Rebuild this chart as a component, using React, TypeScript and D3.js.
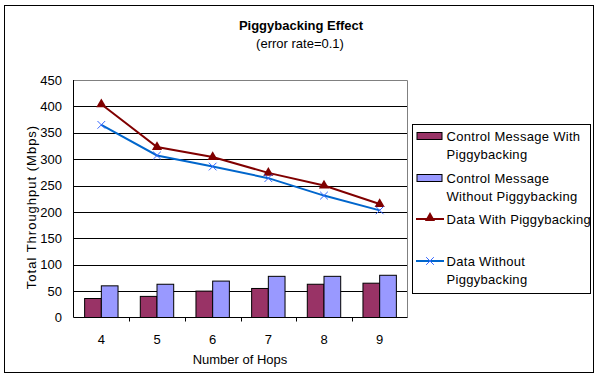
import React, { useRef, useEffect } from 'react';
import * as d3 from 'd3';

const hops = ['4', '5', '6', '7', '8', '9'];
const ctrlWith = [36, 40, 50, 55, 63, 65];
const ctrlWithout = [60, 63, 69, 78, 78, 80];
const dataWith = [404, 323, 304, 274, 250, 215];
const dataWithout = [365, 307, 286, 264, 231, 203];
const yTicks = [0, 50, 100, 150, 200, 250, 300, 350, 400, 450];

const W = 601;
const H = 384;
const FONT = '"Liberation Sans", Arial, sans-serif';

const App: React.FC = () => {
   const svgRef = useRef<SVGSVGElement | null>(null);

   useEffect(() => {
      if (!svgRef.current) return;
      const svg = d3.select(svgRef.current);
      svg.selectAll('*').remove();

      const left = 73.5, right = 407.5, top = 80, bottom = 317.5;

      const x = d3.scaleBand<string>().domain(hops).range([left, right]).padding(0);
      const y = d3.scaleLinear().domain([0, 450]).range([bottom, top]);
      const bw = x.bandwidth();

      // outer frame
      svg.append('rect')
         .attr('x', 4.5).attr('y', 5.5)
         .attr('width', 589).attr('height', 367)
         .attr('fill', 'white').attr('stroke', 'black').attr('stroke-width', 1);

      // titles
      svg.append('text')
         .attr('x', 301).attr('y', 30)
         .attr('text-anchor', 'middle')
         .attr('font-family', FONT).attr('font-size', 13).attr('font-weight', 'bold')
         .text('Piggybacking Effect');
      svg.append('text')
         .attr('x', 300).attr('y', 48)
         .attr('text-anchor', 'middle')
         .attr('font-family', FONT).attr('font-size', 13)
         .text('(error rate=0.1)');

      // gridlines
      svg.append('g')
         .selectAll('line')
         .data(yTicks.filter((t) => t > 0 && t < 450))
         .join('line')
         .attr('x1', left).attr('x2', right)
         .attr('y1', (d) => Math.round(y(d)) + 0.5)
         .attr('y2', (d) => Math.round(y(d)) + 0.5)
         .attr('stroke', 'black').attr('stroke-width', 1);

      // plot border top/right (gray)
      svg.append('path')
         .attr('d', `M${left},${top + 0.5}H${right}V${bottom}`)
         .attr('fill', 'none').attr('stroke', '#808080').attr('stroke-width', 1);

      // y tick labels
      svg.append('g')
         .selectAll('text')
         .data(yTicks)
         .join('text')
         .attr('x', 62)
         .attr('y', (d) => y(d))
         .attr('dy', '0.36em')
         .attr('text-anchor', 'end')
         .attr('font-family', FONT).attr('font-size', 13)
         .text((d) => d);

      // bars
      const bars = svg.append('g');
      bars.selectAll('rect.cw')
         .data(hops)
         .join('rect')
         .attr('class', 'cw')
         .attr('x', (d) => (x(d) ?? 0) + bw * 0.2)
         .attr('y', (d, i) => y(ctrlWith[i]))
         .attr('width', bw * 0.3)
         .attr('height', (d, i) => bottom - y(ctrlWith[i]))
         .attr('fill', '#993366').attr('stroke', 'black').attr('stroke-width', 1);
      bars.selectAll('rect.cwo')
         .data(hops)
         .join('rect')
         .attr('class', 'cwo')
         .attr('x', (d) => (x(d) ?? 0) + bw * 0.5)
         .attr('y', (d, i) => y(ctrlWithout[i]))
         .attr('width', bw * 0.3)
         .attr('height', (d, i) => bottom - y(ctrlWithout[i]))
         .attr('fill', '#9999FF').attr('stroke', 'black').attr('stroke-width', 1);

      // axes lines
      svg.append('line')
         .attr('x1', left).attr('x2', left).attr('y1', top).attr('y2', bottom)
         .attr('stroke', 'black');
      svg.append('line')
         .attr('x1', left).attr('x2', right).attr('y1', bottom).attr('y2', bottom)
         .attr('stroke', 'black');
      svg.append('g')
         .selectAll('line')
         .data(hops.slice(1))
         .join('line')
         .attr('x1', (d) => Math.round(x(d) ?? 0) + 0.5)
         .attr('x2', (d) => Math.round(x(d) ?? 0) + 0.5)
         .attr('y1', bottom).attr('y2', bottom + 4)
         .attr('stroke', 'black');

      // x tick labels
      svg.append('g')
         .selectAll('text')
         .data(hops)
         .join('text')
         .attr('x', (d) => (x(d) ?? 0) + bw / 2)
         .attr('y', 344)
         .attr('text-anchor', 'middle')
         .attr('font-family', FONT).attr('font-size', 13)
         .text((d) => d);

      // axis titles
      svg.append('text')
         .attr('x', 240).attr('y', 364)
         .attr('text-anchor', 'middle')
         .attr('font-family', FONT).attr('font-size', 13)
         .text('Number of Hops');
      svg.append('text')
         .attr('transform', 'translate(36,207) rotate(-90)')
         .attr('text-anchor', 'middle')
         .attr('font-family', FONT).attr('font-size', 13)
         .attr('letter-spacing', 1)
         .text('Total Throughput (Mbps)');

      // lines
      const cx = (d: string) => (x(d) ?? 0) + bw / 2;
      const line = d3.line<number>()
         .x((d, i) => cx(hops[i]))
         .y((d) => y(d));

      svg.append('path')
         .datum(dataWithout)
         .attr('d', line)
         .attr('fill', 'none').attr('stroke', '#0066CC').attr('stroke-width', 2);
      svg.append('path')
         .datum(dataWith)
         .attr('d', line)
         .attr('fill', 'none').attr('stroke', '#800000').attr('stroke-width', 2);

      const tri = d3.symbol().type(d3.symbolTriangle).size(45);
      svg.append('g')
         .selectAll('path')
         .data(dataWith)
         .join('path')
         .attr('transform', (d, i) => `translate(${cx(hops[i])},${y(d)})`)
         .attr('d', tri)
         .attr('fill', '#800000');

      const cross = d3.symbol().type(d3.symbolX).size(40);
      svg.append('g')
         .selectAll('path')
         .data(dataWithout)
         .join('path')
         .attr('transform', (d, i) => `translate(${cx(hops[i])},${y(d)})`)
         .attr('d', cross)
         .attr('fill', 'none').attr('stroke', '#3366FF').attr('stroke-width', 1);

      // legend
      const lg = svg.append('g');
      lg.append('rect')
         .attr('x', 412.5).attr('y', 124.5)
         .attr('width', 178).attr('height', 169)
         .attr('fill', 'white').attr('stroke', 'black');

      const legendItems = [
         { kind: 'bar', color: '#993366', lines: ['Control Message With', 'Piggybacking'], y: 136 },
         { kind: 'bar', color: '#9999FF', lines: ['Control Message', 'Without Piggybacking'], y: 178 },
         { kind: 'tri', color: '#800000', lines: ['Data With Piggybacking'], y: 219 },
         { kind: 'x', color: '#0066CC', lines: ['Data Without', 'Piggybacking'], y: 261 },
      ];

      legendItems.forEach((it) => {
         if (it.kind === 'bar') {
            lg.append('rect')
               .attr('x', 417).attr('y', it.y - 3.5)
               .attr('width', 25).attr('height', 7)
               .attr('fill', it.color).attr('stroke', 'black');
         } else {
            lg.append('line')
               .attr('x1', 416).attr('x2', 444).attr('y1', it.y).attr('y2', it.y)
               .attr('stroke', it.color).attr('stroke-width', 2);
            if (it.kind === 'tri') {
               lg.append('path')
                  .attr('transform', `translate(430,${it.y - 1})`)
                  .attr('d', tri).attr('fill', it.color);
            } else {
               lg.append('path')
                  .attr('transform', `translate(430,${it.y})`)
                  .attr('d', cross).attr('fill', 'none')
                  .attr('stroke', '#3366FF').attr('stroke-width', 1);
            }
         }
         it.lines.forEach((t, j) => {
            lg.append('text')
               .attr('x', 446.5).attr('y', it.y + j * 18.5)
               .attr('dy', '0.36em')
               .attr('font-family', FONT).attr('font-size', 13)
               .attr('letter-spacing', 0.3)
               .text(t);
         });
      });
   }, []);

   return (
      <svg
         ref={svgRef}
         width={W}
         height={H}
         style={{ position: 'absolute', left: 0, top: 0, background: 'white' }}
      />
   );
};

export default App;
